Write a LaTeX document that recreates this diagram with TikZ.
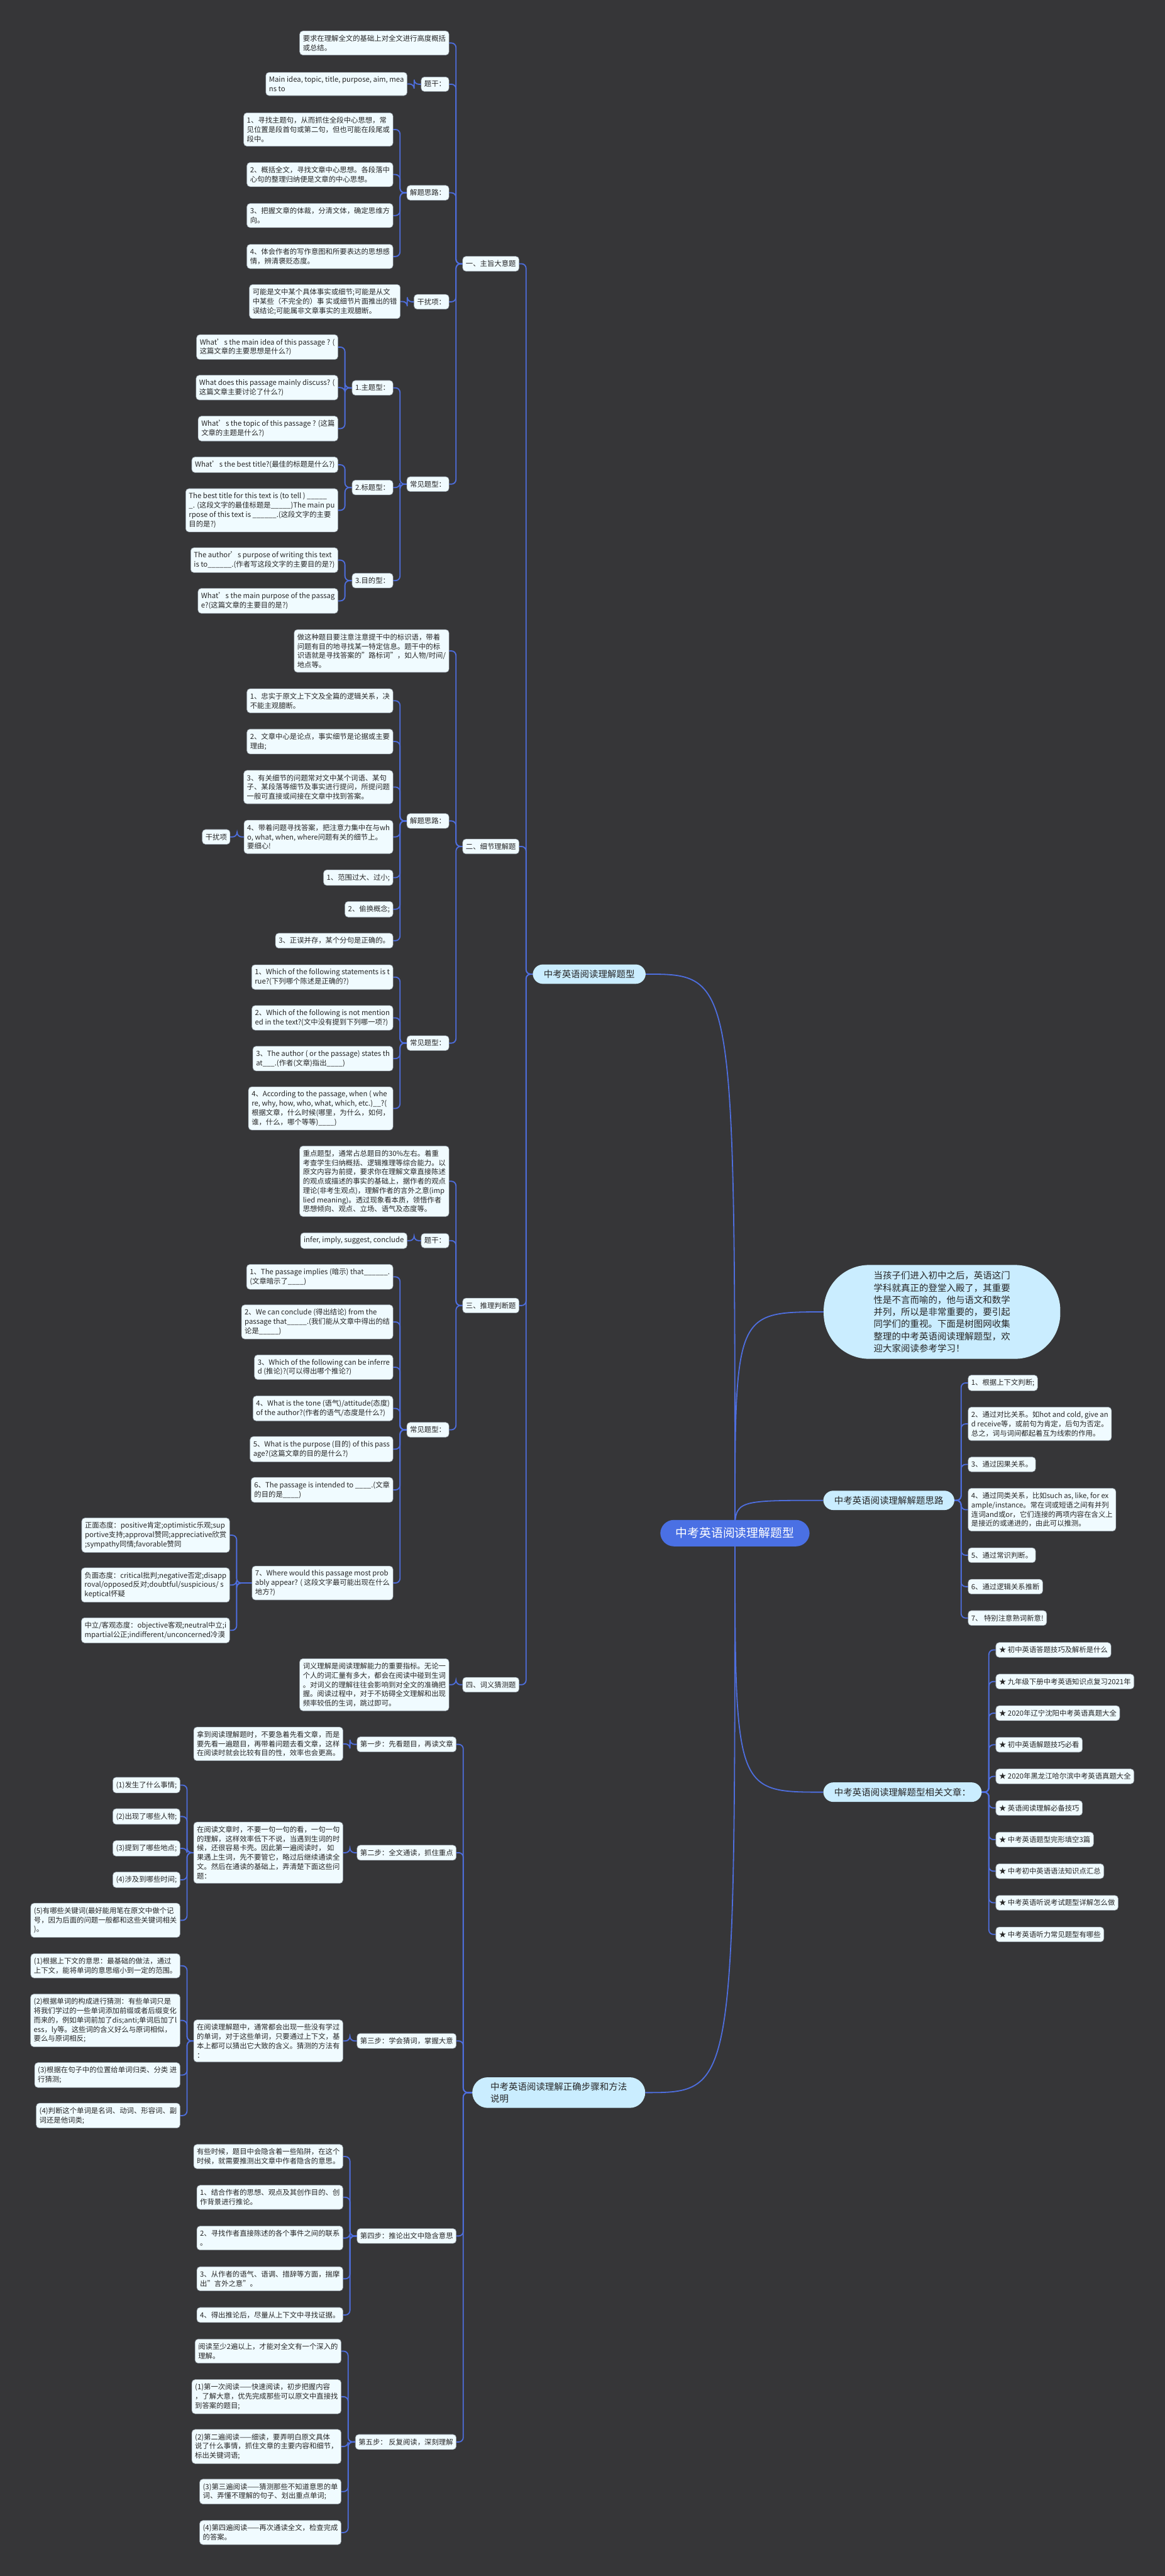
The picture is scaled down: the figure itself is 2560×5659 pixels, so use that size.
\documentclass[tikz,border=0pt]{standalone}
\usepackage{fontspec}
\setmainfont{Noto Sans CJK SC}
\usetikzlibrary{backgrounds}

\definecolor{bgcol}{RGB}{54,54,56}
\definecolor{linkcol}{RGB}{78,110,222}
\definecolor{leafcol}{RGB}{240,251,255}
\definecolor{leafedge}{RGB}{150,160,170}
\definecolor{topiccol}{RGB}{202,237,255}
\definecolor{rootcol}{RGB}{74,112,228}
\definecolor{txtcol}{RGB}{38,38,38}

\newcommand{\leaffont}{\fontsize{15.7}{20.4}\selectfont}
\newcommand{\topicfont}{\fontsize{20}{26.6}\selectfont}
\newcommand{\rootfont}{\fontsize{26}{30}\selectfont}

% left children hang on the west side, right children on the east side
\newcommand{\leftlinks}[2]{\foreach \c in {#2} \draw[link] (#1.west) -| ([xshift=15pt]\c.east) -- (\c.east);}
\newcommand{\rightlinks}[2]{\foreach \c in {#2} \draw[link] (#1.east) -| ([xshift=-15pt]\c.west) -- (\c.west);}

\tikzset{
  leaf/.style={rectangle, rounded corners=7pt, fill=leafcol, draw=leafedge, line width=0.8pt,
    text=txtcol, font=\leaffont, inner xsep=7pt, inner ysep=9pt, align=left},
  topic/.style={rectangle, rounded corners=22pt, fill=topiccol, text=txtcol, font=\topicfont,
    inner xsep=24pt, inner ysep=12pt, align=left},
  rootnode/.style={rectangle, rounded corners=30pt, fill=rootcol, text=white, font=\rootfont,
    inner xsep=34pt, inner ysep=17pt},
  link/.style={draw=linkcol, line width=2.5pt, rounded corners=10pt},
}

\begin{document}
\begin{tikzpicture}[x=1pt,y=-1pt]
    \useasboundingbox (0,0) rectangle (2560,5659);
    \begin{pgfonlayer}{background}
        \fill[bgcol] (0,0) rectangle (2560,5659);
    \end{pgfonlayer}

    % --- Root and main topics ---
    \node[rootnode] (root) at (1615,3368) {中考英语阅读理解题型};
    \node[topic, anchor=east] (t1) at (1419,2140) {中考英语阅读理解题型};
    \node[topic, rounded corners=100pt, inner xsep=110pt, inner ysep=14pt] (intro) at (2070,2882) {当孩子们进入初中之后，英语这门\\学科就真正的登堂入殿了，其重要\\性是不言而喻的，他与语文和数学\\并列，所以是非常重要的，要引起\\同学们的重视。下面是树图网收集\\整理的中考英语阅读理解题型，欢\\迎大家阅读参考学习！};
    \node[topic, anchor=west] (t2) at (1809,3296) {中考英语阅读理解解题思路};
    \node[topic, anchor=west] (t3) at (1809,3937) {中考英语阅读理解题型相关文章：};
    \node[topic, anchor=east, rounded corners=34pt, inner xsep=40pt, inner ysep=11pt] (t4) at (1418,4597) {中考英语阅读理解正确步骤和方法\\说明};
    % ---

    % --- 一、主旨大意题 ---
    \node[leaf, anchor=east] (s1) at (1141,579.5) {一、主旨大意题};
    \node[leaf, anchor=east] (a1) at (987,94.5) {要求在理解全文的基础上对全文进行高度概括\\或总结。};
    \node[leaf, anchor=east] (a2) at (987,185) {题干：};
    \node[leaf, anchor=east] (a2a) at (895,184.5) {Main idea, topic, title, purpose, aim, mea\\ns to};
    \node[leaf, anchor=east] (a3) at (987,423.5) {解题思路：};
    \node[leaf, anchor=east] (a31) at (864,284.5) {1、寻找主题句，从而抓住全段中心思想，常\\见位置是段首句或第二句，但也可能在段尾或\\段中。};
    \node[leaf, anchor=east] (a32) at (864,383.5) {2、概括全文，寻找文章中心思想。各段落中\\心句的整理归纳便是文章的中心思想。};
    \node[leaf, anchor=east] (a33) at (864,473.5) {3、把握文章的体裁，分清文体，确定思维方\\向。};
    \node[leaf, anchor=east] (a34) at (864,563.5) {4、体会作者的写作意图和所要表达的思想感\\情，辨清褒贬态度。};
    \node[leaf, anchor=east] (a4) at (987,663) {干扰项：};
    \node[leaf, anchor=east] (a4a) at (880,662.5) {可能是文中某个具体事实或细节;可能是从文\\中某些（不完全的）事 实或细节片面推出的错\\误结论;可能属非文章事实的主观臆断。};
    \node[leaf, anchor=east] (a5) at (987,1063.5) {常见题型：};
    \node[leaf, anchor=east] (a51) at (864,852) {1.主题型：};
    \node[leaf, anchor=east] (a511) at (743,762.5) {What’s the main idea of this passage ? (\\这篇文章的主要思想是什么?)};
    \node[leaf, anchor=east] (a512) at (743,851.5) {What does this passage mainly discuss? (\\这篇文章主要讨论了什么?)};
    \node[leaf, anchor=east] (a513) at (743,941.5) {What’s the topic of this passage ? (这篇\\文章的主题是什么?)};
    \node[leaf, anchor=east] (a52) at (864,1071) {2.标题型：};
    \node[leaf, anchor=east] (a521) at (743,1021) {What’s the best title?(最佳的标题是什么?)};
    \node[leaf, anchor=east] (a522) at (743,1121) {The best title for this text is (to tell ) \_\_\_\_\_\\\_. (这段文字的最佳标题是\_\_\_\_\_)The main pu\\rpose of this text is \_\_\_\_\_\_.(这段文字的主要\\目的是?)};
    \node[leaf, anchor=east] (a53) at (864,1275.5) {3.目的型：};
    \node[leaf, anchor=east] (a531) at (743,1230.5) {The author’s purpose of writing this text\\ is to\_\_\_\_\_\_.(作者写这段文字的主要目的是?)};
    \node[leaf, anchor=east] (a532) at (743,1320) {What’s the main purpose of the passag\\e?(这篇文章的主要目的是?)};
    % ---

    % --- 二、细节理解题 ---
    \node[leaf, anchor=east] (s2) at (1141,1859.5) {二、细节理解题};
    \node[leaf, anchor=east] (b1) at (987,1430) {做这种题目要注意注意提干中的标识语，带着\\问题有目的地寻找某一特定信息。题干中的标\\识语就是寻找答案的"路标词"，如人物/时间/\\地点等。};
    \node[leaf, anchor=east] (b2) at (987,1803.5) {解题思路：};
    \node[leaf, anchor=east] (b21) at (864,1539.5) {1、忠实于原文上下文及全篇的逻辑关系，决\\不能主观臆断。};
    \node[leaf, anchor=east] (b22) at (864,1629) {2、文章中心是论点，事实细节是论据或主要\\理由;};
    \node[leaf, anchor=east] (b23) at (864,1729) {3、有关细节的问题常对文中某个词语、某句\\子、某段落等细节及事实进行提问，所提问题\\一般可直接或间接在文章中找到答案。};
    \node[leaf, anchor=east] (b24) at (864,1838.5) {4、带着问题寻找答案，把注意力集中在与wh\\o, what, when, where问题有关的细节上。\\要细心!};
    \node[leaf, anchor=east] (b241) at (506,1838.5) {干扰项};
    \node[leaf, anchor=east] (b25) at (864,1928) {1、范围过大、过小;};
    \node[leaf, anchor=east] (b26) at (864,1997.5) {2、偷换概念;};
    \node[leaf, anchor=east] (b27) at (864,2066.5) {3、正误并存，某个分句是正确的。};
    \node[leaf, anchor=east] (b3) at (987,2291.5) {常见题型：};
    \node[leaf, anchor=east] (b31) at (864,2146.5) {1、Which of the following statements is t\\rue?(下列哪个陈述是正确的?)};
    \node[leaf, anchor=east] (b32) at (864,2236) {2、Which of the following is not mention\\ed in the text?(文中没有提到下列哪一项?)};
    \node[leaf, anchor=east] (b33) at (864,2325.5) {3、The author ( or the passage) states th\\at\_\_\_.(作者(文章)指出\_\_\_\_)};
    \node[leaf, anchor=east] (b34) at (864,2435) {4、According to the passage, when ( whe\\re, why, how, who, what, which, etc.)\_\_?(\\根据文章，什么时候(哪里，为什么，如何，\\谁，什么，哪个等等)\_\_\_\_)};
    % ---

    % --- 三、推理判断题 ---
    \node[leaf, anchor=east] (s3) at (1141,2868) {三、推理判断题};
    \node[leaf, anchor=east] (c1) at (987,2595) {重点题型，通常占总题目的30\%左右。着重\\考查学生归纳概括、逻辑推理等综合能力。以\\原文内容为前提，要求你在理解文章直接陈述\\的观点或描述的事实的基础上，据作者的观点\\理论(非考生观点)，理解作者的言外之意(imp\\lied meaning)。透过现象看本质，领悟作者\\思想倾向、观点、立场、语气及态度等。};
    \node[leaf, anchor=east] (c2) at (987,2725.5) {题干：};
    \node[leaf, anchor=east] (c2a) at (895,2725.5) {infer, imply, suggest, conclude};
    \node[leaf, anchor=east] (c3) at (987,3141) {常见题型：};
    \node[leaf, anchor=east] (c31) at (864,2805) {1、The passage implies (暗示) that\_\_\_\_\_\_.\\(文章暗示了\_\_\_\_)};
    \node[leaf, anchor=east] (c32) at (864,2904) {2、We can conclude (得出结论) from the\\passage that\_\_\_\_\_.(我们能从文章中得出的结\\论是\_\_\_\_\_)};
    \node[leaf, anchor=east] (c33) at (864,3003.5) {3、Which of the following can be inferre\\d (推论)?(可以得出哪个推论?)};
    \node[leaf, anchor=east] (c34) at (864,3094) {4、What is the tone (语气)/attitude(态度)\\of the author?(作者的语气/态度是什么?)};
    \node[leaf, anchor=east] (c35) at (864,3183.5) {5、What is the purpose (目的) of this pass\\age?(这篇文章的目的是什么?)};
    \node[leaf, anchor=east] (c36) at (864,3273) {6、The passage is intended to \_\_\_\_.(文章\\的目的是\_\_\_\_)};
    \node[leaf, anchor=east] (c37) at (864,3477.5) {7、Where would this passage most prob\\ably appear? ( 这段文字最可能出现在什么\\地方?)};
    \node[leaf, anchor=east] (c371) at (505,3372.5) {正面态度：positive肯定;optimistic乐观;sup\\portive支持;approval赞同;appreciative欣赏\\;sympathy同情;favorable赞同};
    \node[leaf, anchor=east] (c372) at (505,3482) {负面态度：critical批判;negative否定;disapp\\roval/opposed反对;doubtful/suspicious/ s\\keptical怀疑};
    \node[leaf, anchor=east] (c373) at (505,3581.5) {中立/客观态度：objective客观;neutral中立;i\\mpartial公正;indifferent/unconcerned冷漠};
    % ---

    % --- 四、词义猜测题 ---
    \node[leaf, anchor=east] (s4) at (1141,3701) {四、词义猜测题};
    \node[leaf, anchor=east] (d1) at (987,3701) {词义理解是阅读理解能力的重要指标。无论一\\个人的词汇量有多大，都会在阅读中碰到生词\\。对词义的理解往往会影响到对全文的准确把\\握。阅读过程中，对于不妨碍全文理解和出现\\频率较低的生词，跳过即可。};
    % ---

    % --- Right side: 解题思路 and 相关文章 ---
    \node[leaf, anchor=west] (r1) at (2127,3038) {1、根据上下文判断;};
    \node[leaf, anchor=west] (r2) at (2127,3128) {2、通过对比关系。如hot and cold, give an\\d receive等，或前句为肯定，后句为否定。\\总之，词与词间都起着互为线索的作用。};
    \node[leaf, anchor=west] (r3) at (2127,3217) {3、通过因果关系。};
    \node[leaf, anchor=west] (r4) at (2127,3316.5) {4、通过同类关系，比如such as, like, for ex\\ample/instance。常在词或短语之间有并列\\连词and或or，它们连接的两项内容在含义上\\是接近的或递进的，由此可以推测。};
    \node[leaf, anchor=west] (r5) at (2127,3416.5) {5、通过常识判断。};
    \node[leaf, anchor=west] (r6) at (2127,3485.5) {6、通过逻辑关系推断};
    \node[leaf, anchor=west] (r7) at (2127,3554.5) {7、 特别注意熟词新意!};
    \foreach \t [count=\i] in {初中英语答题技巧及解析是什么, 九年级下册中考英语知识点复习2021年,
        2020年辽宁沈阳中考英语真题大全, 初中英语解题技巧必看, 2020年黑龙江哈尔滨中考英语真题大全,
        英语阅读理解必备技巧, 中考英语题型完形填空3篇, 中考初中英语语法知识点汇总,
        中考英语听说考试题型详解怎么做, 中考英语听力常见题型有哪些}
        \node[leaf, anchor=west] (st\i) at (2188,{3555.1+69.44*\i}) {★ \t};
    % ---

    % --- 正确步骤和方法 ---
    \node[leaf, anchor=east] (p1) at (1003,3832) {第一步：先看题目，再读文章};
    \node[leaf, anchor=east] (p1a) at (754,3831) {拿到阅读理解题时，不要急着先看文章，而是\\要先看一遍题目，再带着问题去看文章，这样\\在阅读时就会比较有目的性，效率也会更高。};
    \node[leaf, anchor=east] (p2) at (1003,4070) {第二步：全文通读，抓住重点};
    \node[leaf, anchor=east] (p2a) at (754,4070) {在阅读文章时，不要一句一句的看，一句一句\\的理解，这样效率低下不说，当遇到生词的时\\候，还很容易卡壳。因此第一遍阅读时， 如\\果遇上生词，先不要管它，略过后继续通读全\\文。然后在通读的基础上，弄清楚下面这些问\\题：};
    \node[leaf, anchor=east] (p2a1) at (396,3921.5) {(1)发生了什么事情;};
    \node[leaf, anchor=east] (p2a2) at (396,3990.5) {(2)出现了哪些人物;};
    \node[leaf, anchor=east] (p2a3) at (396,4060.5) {(3)提到了哪些地点;};
    \node[leaf, anchor=east] (p2a4) at (396,4129.5) {(4)涉及到哪些时间;};
    \node[leaf, anchor=east] (p2a5) at (396,4218.5) {(5)有哪些关键词(最好能用笔在原文中做个记\\号，因为后面的问题一般都和这些关键词相关\\)。};
    \node[leaf, anchor=east] (p3) at (1003,4483.5) {第三步：学会猜词，掌握大意};
    \node[leaf, anchor=east] (p3a) at (754,4483.5) {在阅读理解题中，通常都会出现一些没有学过\\的单词，对于这些单词，只要通过上下文，基\\本上都可以猜出它大致的含义。猜测的方法有\\：};
    \node[leaf, anchor=east] (p3a1) at (396,4318.5) {(1)根据上下文的意思：最基础的做法，通过\\上下文，能将单词的意思缩小到一定的范围。};
    \node[leaf, anchor=east] (p3a2) at (396,4438.5) {(2)根据单词的构成进行猜测：有些单词只是\\将我们学过的一些单词添加前缀或者后缀变化\\而来的，例如单词前加了dis;anti;单词后加了l\\ess，ly等。这些词的含义好么与原词相似，\\要么与原词相反;};
    \node[leaf, anchor=east] (p3a3) at (396,4558.5) {(3)根据在句子中的位置给单词归类、分类 进\\行猜测;};
    \node[leaf, anchor=east] (p3a4) at (396,4647.5) {(4)判断这个单词是名词、动词、形容词、副\\词还是他词类;};
    \node[leaf, anchor=east] (p4) at (1003,4912) {第四步：推论出文中隐含意思};
    \node[leaf, anchor=east] (p41) at (754,4737.5) {有些时候，题目中会隐含着一些陷阱，在这个\\时候，就需要推测出文章中作者隐含的意思。};
    \node[leaf, anchor=east] (p42) at (754,4827) {1、结合作者的思想、观点及其创作目的、创\\作背景进行推论。};
    \node[leaf, anchor=east] (p43) at (754,4916.5) {2、寻找作者直接陈述的各个事件之间的联系\\。};
    \node[leaf, anchor=east] (p44) at (754,5006) {3、从作者的语气、语调、措辞等方面，揣摩\\出"言外之意"。};
    \node[leaf, anchor=east] (p45) at (754,5085.5) {4、得出推论后，尽量从上下文中寻找证据。};
    \node[leaf, anchor=east] (p5) at (1003,5364.5) {第五步： 反复阅读，深刻理解};
    \node[leaf, anchor=east] (p51) at (750,5165) {阅读至少2遍以上，才能对全文有一个深入的\\理解。};
    \node[leaf, anchor=east] (p52) at (750,5265) {(1)第一次阅读——快速阅读，初步把握内容\\，了解大意，优先完成那些可以原文中直接找\\到答案的题目;};
    \node[leaf, anchor=east] (p53) at (750,5374.5) {(2)第二遍阅读——细读，要弄明白原文具体\\说了什么事情，抓住文章的主要内容和细节，\\标出关键词语;};
    \node[leaf, anchor=east] (p54) at (750,5473.5) {(3)第三遍阅读——猜测那些不知道意思的单\\词、弄懂不理解的句子、划出重点单词;};
    \node[leaf, anchor=east] (p55) at (750,5563.5) {(4)第四遍阅读——再次通读全文，检查完成\\的答案。};
    % ---

    % --- Connectors ---
    \begin{pgfonlayer}{background}
        \draw[link] (root.center) .. controls (root.center |- t1.east) .. (t1.east);
        \draw[link] (root.center) .. controls (root.center |- intro.west) .. (intro.west);
        \draw[link] (root.center) .. controls (root.center |- t2.west) .. (t2.west);
        \draw[link] (root.center) .. controls (root.center |- t3.west) .. (t3.west);
        \draw[link] (root.center) .. controls (root.center |- t4.east) .. (t4.east);

        \leftlinks{t1}{s1,s2,s3,s4}
        \leftlinks{s1}{a1,a2,a3,a4,a5}
        \leftlinks{a2}{a2a}
        \leftlinks{a3}{a31,a32,a33,a34}
        \leftlinks{a4}{a4a}
        \leftlinks{a5}{a51,a52,a53}
        \leftlinks{a51}{a511,a512,a513}
        \leftlinks{a52}{a521,a522}
        \leftlinks{a53}{a531,a532}
        \leftlinks{s2}{b1,b2,b3}
        \leftlinks{b2}{b21,b22,b23,b24,b25,b26,b27}
        \leftlinks{b24}{b241}
        \leftlinks{b3}{b31,b32,b33,b34}
        \leftlinks{s3}{c1,c2,c3}
        \leftlinks{c2}{c2a}
        \leftlinks{c3}{c31,c32,c33,c34,c35,c36,c37}
        \leftlinks{c37}{c371,c372,c373}
        \leftlinks{s4}{d1}
        \leftlinks{t4}{p1,p2,p3,p4,p5}
        \leftlinks{p1}{p1a}
        \leftlinks{p2}{p2a}
        \leftlinks{p2a}{p2a1,p2a2,p2a3,p2a4,p2a5}
        \leftlinks{p3}{p3a}
        \leftlinks{p3a}{p3a1,p3a2,p3a3,p3a4}
        \leftlinks{p4}{p41,p42,p43,p44,p45}
        \leftlinks{p5}{p51,p52,p53,p54,p55}

        \rightlinks{t2}{r1,r2,r3,r4,r5,r6,r7}
        \rightlinks{t3}{st1,st2,st3,st4,st5,st6,st7,st8,st9,st10}
    \end{pgfonlayer}
    % ---
\end{tikzpicture}
\end{document}
